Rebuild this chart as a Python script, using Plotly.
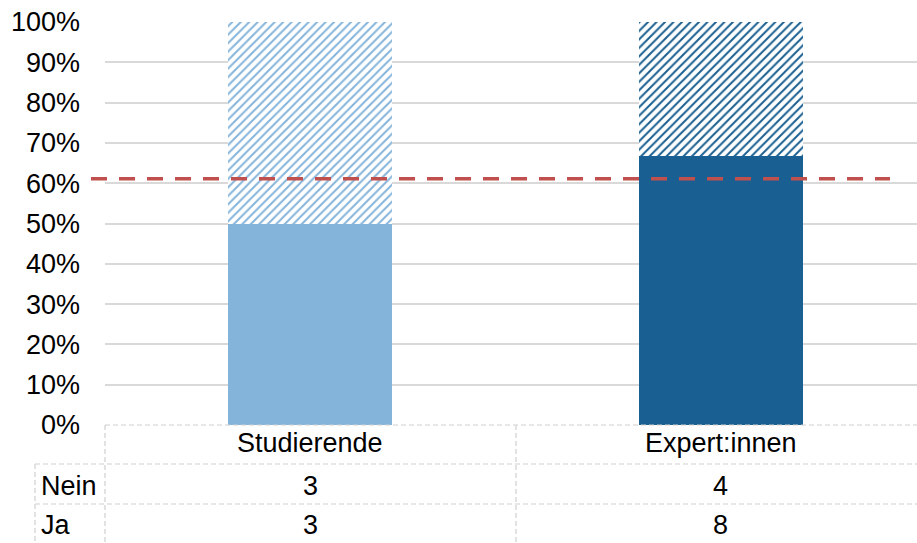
import plotly.graph_objects as go

# Survey responses per group
categories = ["Studierende", "Expert:innen"]
ja = [3, 8]
nein = [3, 4]
row_labels = ["Nein", "Ja"]
y_ticks = list(range(0, 101, 10))
y_tick_text = [f"{v}%" for v in y_ticks]

colors_solid = ["#85B4DA", "#1A5F91"]

totals = [a + b for a, b in zip(ja, nein)]
ja_pct = [100 * a / t for a, t in zip(ja, totals)]
nein_pct = [100 * b / t for b, t in zip(nein, totals)]
overall_ja = 100 * sum(ja) / sum(totals)

W, H = 917, 543
ML, MR, MT, MB = 105, 0, 22, 118
plot_h = H - MT - MB
FONT = "Liberation Sans, Arial, sans-serif"
FS = 27

def py(px):
    """Pixel row -> paper y."""
    return (H - MB - px) / plot_h

def pxx(px):
    return (px - ML) / (W - ML - MR)

fig = go.Figure()

fig.add_trace(go.Bar(
    x=categories, y=ja_pct, name="Ja",
    marker=dict(color=colors_solid, line=dict(width=0)),
    width=0.4, showlegend=False, hoverinfo="skip",
))
fig.add_trace(go.Bar(
    x=categories, y=nein_pct, name="Nein",
    marker=dict(
        color="white", line=dict(width=0),
        pattern=dict(shape="/", fgcolor=colors_solid, bgcolor="white",
                     size=6, solidity=0.33, fillmode="replace"),
    ),
    width=0.4, showlegend=False, hoverinfo="skip",
))

shapes = []
# overall share of "Ja"
shapes.append(dict(type="line", xref="paper", yref="y",
                   x0=pxx(91), x1=pxx(890), y0=overall_ja, y1=overall_ja,
                   line=dict(color="#C0504D", width=3.5, dash="16px,12px"),
                   layer="above"))

grid_dash = dict(color="#D0D0D0", width=1.2, dash="5px,3px")
# data table grid
for y_line, x_start in [(425, 105), (464, 35), (504, 35)]:
    shapes.append(dict(type="line", xref="paper", yref="paper",
                       x0=pxx(x_start), x1=1, y0=py(y_line), y1=py(y_line),
                       line=grid_dash, layer="above"))
for x_line, y_start in [(105, 425), (516, 425), (35, 464)]:
    shapes.append(dict(type="line", xref="paper", yref="paper",
                       x0=pxx(x_line), x1=pxx(x_line), y0=py(y_start), y1=py(H + 5),
                       line=grid_dash, layer="above"))

annotations = []
for c in categories:
    annotations.append(dict(x=c, xref="x", y=py(443), yref="paper", text=c,
                            showarrow=False, font=dict(family=FONT, size=FS, color="black"),
                            xanchor="center", yanchor="middle"))
for row_name, row_vals, ypix in [(row_labels[0], nein, 486), (row_labels[1], ja, 525)]:
    annotations.append(dict(x=pxx(39), xref="paper", y=py(ypix), yref="paper", text=row_name,
                            showarrow=False, font=dict(family=FONT, size=FS, color="black"),
                            xanchor="left", yanchor="middle"))
    for c, v in zip(categories, row_vals):
        annotations.append(dict(x=c, xref="x", y=py(ypix), yref="paper", text=str(v),
                                showarrow=False, font=dict(family=FONT, size=FS, color="black"),
                                xanchor="center", yanchor="middle"))

fig.update_layout(
    width=W, height=H,
    margin=dict(l=ML, r=MR, t=MT, b=MB, pad=0),
    barmode="stack",
    plot_bgcolor="white", paper_bgcolor="white",
    font=dict(family=FONT, size=FS, color="black"),
    xaxis=dict(range=[-0.5, -0.5 + (W - ML - MR) / 410.5], showticklabels=False,
               showgrid=False, zeroline=False, showline=False, fixedrange=True),
    yaxis=dict(range=[0, 100], tickvals=y_ticks, ticktext=y_tick_text,
               showgrid=True, gridcolor="#D9D9D9", gridwidth=1.5,
               zeroline=False, showline=False, ticks="", ticklabelstandoff=24,
               tickfont=dict(family=FONT, size=FS, color="black")),
    shapes=shapes,
    annotations=annotations,
)

fig.write_html("out.html")
